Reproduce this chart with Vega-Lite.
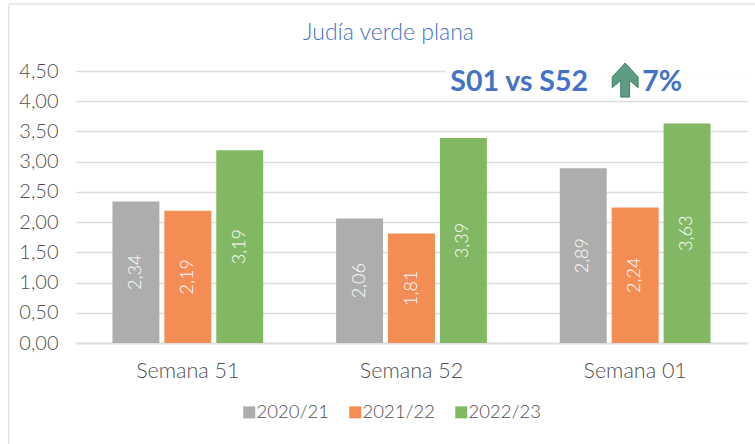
{
"$schema":"https://vega.github.io/schema/vega-lite/v6.json",
"width":671,"height":272,
"autosize":"none",
"padding":{"left":76,"top":71,"right":8,"bottom":101},
"background":"white",
"title":{"text":"Judía verde plana","color":"#4472C4","font":"Lato","fontSize":23,"fontWeight":300,"anchor":"middle","offset":-42,"dx":-23},
"data":{"values":[
{"semana":"Semana 51","campana":"2020/21","valor":2.34,"etiqueta":"2,34"},
{"semana":"Semana 51","campana":"2021/22","valor":2.19,"etiqueta":"2,19"},
{"semana":"Semana 51","campana":"2022/23","valor":3.19,"etiqueta":"3,19"},
{"semana":"Semana 52","campana":"2020/21","valor":2.06,"etiqueta":"2,06"},
{"semana":"Semana 52","campana":"2021/22","valor":1.81,"etiqueta":"1,81"},
{"semana":"Semana 52","campana":"2022/23","valor":3.39,"etiqueta":"3,39"},
{"semana":"Semana 01","campana":"2020/21","valor":2.89,"etiqueta":"2,89"},
{"semana":"Semana 01","campana":"2021/22","valor":2.24,"etiqueta":"2,24"},
{"semana":"Semana 01","campana":"2022/23","valor":3.63,"etiqueta":"3,63"}
]},
"encoding":{
"x":{"field":"semana","type":"nominal",
"scale":{"domain":["Semana 51","Semana 52","Semana 01"],"paddingInner":0.326,"paddingOuter":0.163},
"axis":{"title":null,"labelAngle":0,"labelFont":"Lato","labelFontSize":21.5,"labelFontWeight":300,"labelColor":"#4F4F4F","labelPadding":17,"ticks":false,"domainColor":"#E0E0E0","domainWidth":2}}
},
"layer":[
{"data":{"values":[{"semana":"Semana 52","hasta":"Semana 01","y":4.5}]},
"mark":{"type":"rule","color":"white","strokeWidth":3,"xOffset":34,"x2Offset":120},
"encoding":{"x2":{"field":"hasta"},
"y":{"field":"y","type":"quantitative","scale":{"domain":[0,4.5]},
"axis":{"title":null,"values":[0,0.5,1,1.5,2,2.5,3,3.5,4,4.5],"labelExpr":"replace(format(datum.value,'.2f'),'.',',')","labelFont":"Lato","labelFontSize":20,"labelFontWeight":300,"labelColor":"#4F4F4F","labelPadding":18,"ticks":false,"domain":false,"gridColor":"#DCDCDC","gridWidth":1.3}}}},
{"mark":{"type":"bar"},
"encoding":{
"y":{"field":"valor","type":"quantitative","scale":{"domain":[0,4.5]},"axis":null},
"xOffset":{"field":"campana","type":"nominal","scale":{"paddingInner":0.096}},
"color":{"field":"campana","type":"nominal","scale":{"domain":["2020/21","2021/22","2022/23"],"range":["#ADADAD","#F38D54","#82B863"]},
"legend":{"orient":"none","legendX":164,"legendY":332,"direction":"horizontal","title":null,"symbolType":"square","symbolSize":144,"labelFont":"Lato","labelFontSize":18.5,"labelFontWeight":300,"labelColor":"#4F4F4F","symbolStrokeWidth":0,"symbolOpacity":1,"columnPadding":17,"labelOffset":-2}}}},
{"mark":{"type":"text","angle":270,"color":"white","font":"Lato","fontSize":18,"fontWeight":300,"baseline":"middle"},
"encoding":{
"xOffset":{"field":"campana","type":"nominal","scale":{"paddingInner":0.096}},
"y":{"field":"valor","type":"quantitative","scale":{"domain":[0,9]},"axis":null},
"text":{"field":"etiqueta"}}},
{"data":{"values":[{"semana":"Semana 01","y":4.32,"t":"S01 vs S52"}]},
"mark":{"type":"text","font":"Lato","fontWeight":"bold","fontSize":28.5,"color":"#4472C4","dx":-116,"baseline":"middle"},
"encoding":{"y":{"field":"y","type":"quantitative","scale":{"domain":[0,4.5]},"axis":null},"text":{"field":"t"}}},
{"data":{"values":[{"semana":"Semana 01","y":4.32,"t":"7%"}]},
"mark":{"type":"text","font":"Lato","fontWeight":"bold","fontSize":28.5,"color":"#4472C4","dx":27,"baseline":"middle"},
"encoding":{"y":{"field":"y","type":"quantitative","scale":{"domain":[0,4.5]},"axis":null},"text":{"field":"t"}}},
{"data":{"values":[{"semana":"Semana 01","y":4.35}]},
"mark":{"type":"point","filled":true,"shape":"M0,-1 L0.76,-0.18 L0.76,0.45 L0.26,0.02 L0.26,1 L-0.26,1 L-0.26,0.02 L-0.76,0.45 L-0.76,-0.18 Z","size":1156,"fill":"#5E9C84","stroke":"#3F7F68","strokeWidth":1,"opacity":1,"xOffset":-10},
"encoding":{"y":{"field":"y","type":"quantitative","scale":{"domain":[0,4.5]},"axis":null}}},
{"data":{"values":[{"semana":"Semana 51","hasta":"Semana 01","y":5.61}]},
"mark":{"type":"rule","color":"#E3E3E3","strokeWidth":1.5,"xOffset":-179,"x2Offset":120},
"encoding":{"x2":{"field":"hasta"},"y":{"field":"y","type":"quantitative","scale":{"domain":[0,4.5]},"axis":null}}},
{"data":{"values":[{"semana":"Semana 51","y":5.61,"y2":-1.7}]},
"mark":{"type":"rule","color":"#DEDEDE","strokeWidth":1.2,"xOffset":-179},
"encoding":{"y":{"field":"y","type":"quantitative","scale":{"domain":[0,4.5]},"axis":null},"y2":{"field":"y2"}}}
],
"resolve":{"scale":{"y":"independent"}},
"config":{"view":{"stroke":null}}
}
